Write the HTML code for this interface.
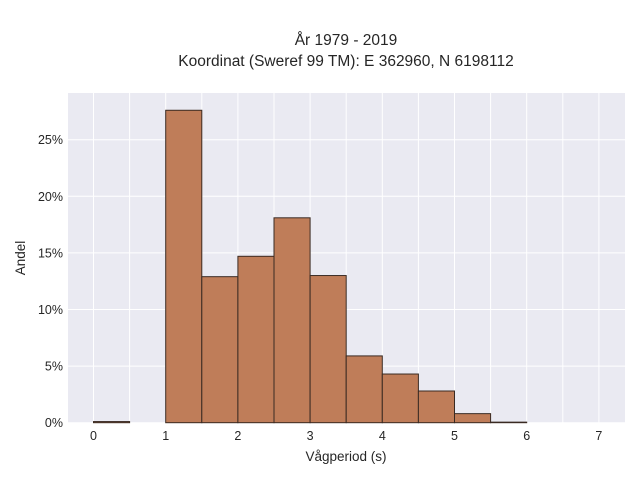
<!DOCTYPE html>
<html><head><meta charset="utf-8"><style>
body{margin:0;background:#fff;font-family:"Liberation Sans",sans-serif}
svg text{font-family:"Liberation Sans",sans-serif;fill:#262626}
</style></head><body>
<svg width="640" height="480" viewBox="0 0 640 480">
<rect x="68" y="93" width="557" height="330" fill="#eaeaf2"/>
<g id="grid"></g><g id="bars"></g><g id="ticks"></g>
<text x="346" y="45" text-anchor="middle" font-size="15.5">År 1979 - 2019</text>
<text x="346" y="66" text-anchor="middle" font-size="15.5">Koordinat (Sweref 99 TM): E 362960, N 6198112</text>
<text x="346" y="461" text-anchor="middle" font-size="13.5">Vågperiod (s)</text>
<text x="25" y="258" text-anchor="middle" font-size="13.5" transform="rotate(-90 25 258)">Andel</text>
</svg>
<script>
const binStarts=[0,0.5,1,1.5,2,2.5,3,3.5,4,4.5,5,5.5,6,6.5];
const binValues=[0.1,0,27.6,12.9,14.7,18.1,13.0,5.9,4.3,2.8,0.8,0.05,0,0];
const binWidth=0.5;
const xTicks=[0,1,2,3,4,5,6,7];
const yTicks=[0,5,10,15,20,25];
const ns="http://www.w3.org/2000/svg";
const xs=v=>93.5+v*72.2;
const ys=v=>422.7-v*11.32;
function mk(tag,attrs,parent){const e=document.createElementNS(ns,tag);for(const k in attrs)e.setAttribute(k,attrs[k]);parent.appendChild(e);return e;}
const grid=document.getElementById('grid'),bars=document.getElementById('bars'),ticks=document.getElementById('ticks');
for(let v=0;v<=7;v+=0.5){const l=mk('line',{x1:xs(v),x2:xs(v),y1:93,y2:423,stroke:'#fff','stroke-width':1},grid);

}
yTicks.forEach(v=>{const l=mk('line',{x1:68,x2:625,y1:ys(v),y2:ys(v),stroke:'#fff','stroke-width':1},grid);


const t=mk('text',{x:63,y:ys(v)+4.5,'text-anchor':'end','font-size':12.5},ticks);t.textContent=v+'%';

});
xTicks.forEach(v=>{const t=mk('text',{x:xs(v),y:440,'text-anchor':'middle','font-size':12.5},ticks);t.textContent=v;

});
binStarts.forEach((s,i)=>{const v=binValues[i];if(v<=0)return;
const r=mk('rect',{x:xs(s),y:ys(v),width:xs(s+binWidth)-xs(s),height:ys(0)-ys(v),fill:'#bf7d59',stroke:'#3a2a22','stroke-width':1},bars);

});
</script>
</body></html>
